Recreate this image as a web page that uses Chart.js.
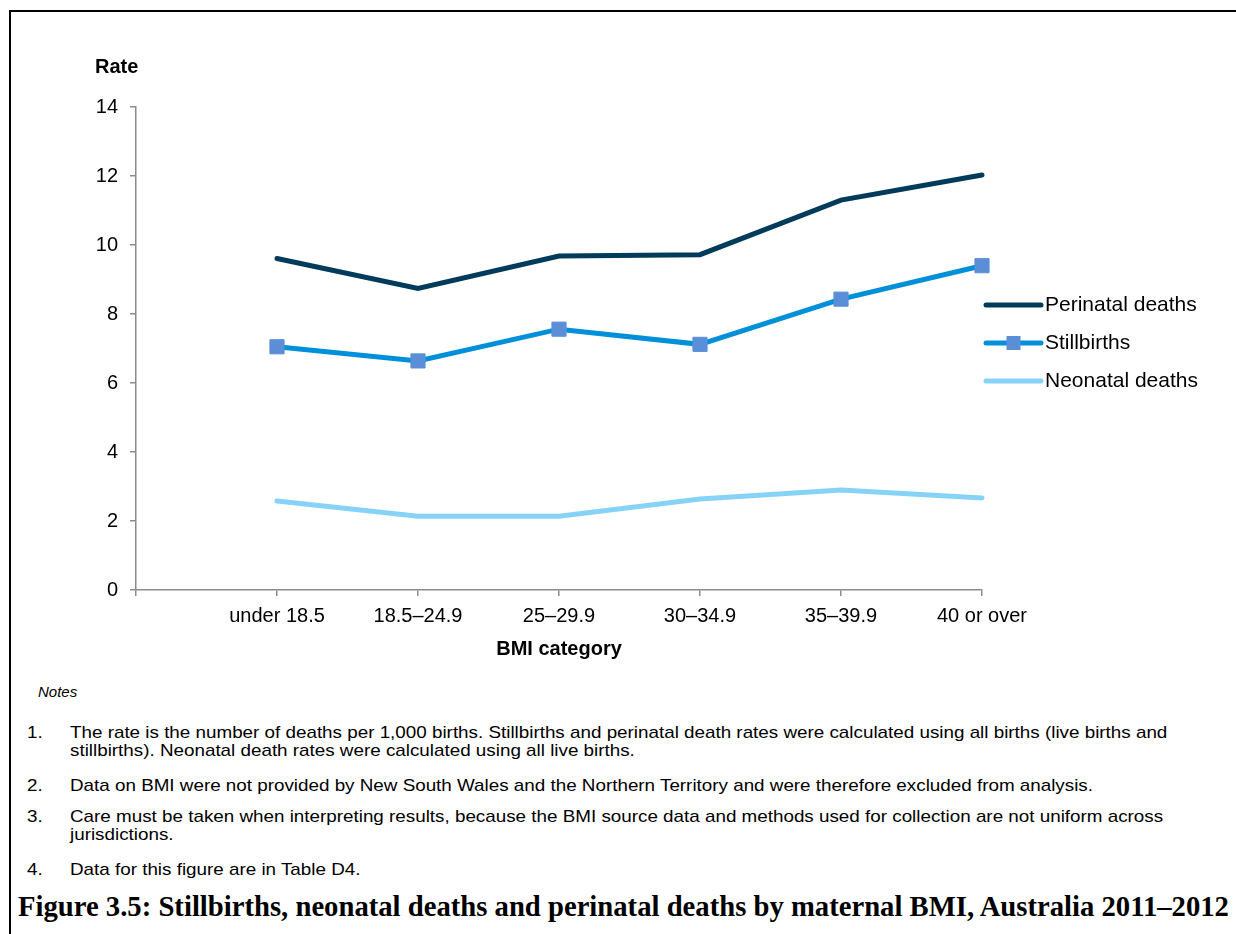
<!DOCTYPE html>
<html>
<head>
<meta charset="utf-8">
<script src="https://cdn.jsdelivr.net/npm/chart.js@4/dist/chart.umd.min.js"></script>
<style>
html, body { margin: 0; padding: 0; background: #fff; }
body { font-family: "Liberation Sans", Arial, sans-serif; color: #000; position: relative; width: 1236px; height: 934px; overflow: hidden; }
#frame { position: absolute; left: 9px; top: 10px; right: 0; bottom: 0; border-left: 2px solid #000; border-top: 2px solid #000; }
#myChart { position: absolute; left: 0; top: 0; }
.t { position: absolute; white-space: nowrap; font-size: 17px; line-height: 18px; transform: scaleX(1.107); transform-origin: 0 0; }
.num { left: 27px; }
.txt { left: 70px; }
#notes { left: 38px; top: 683px; font-style: italic; font-size: 15px; transform: none; }
#caption { position: absolute; left: 18px; top: 892px; white-space: nowrap; font-family: "Liberation Serif", "Times New Roman", serif; font-weight: bold; font-size: 24px; line-height: 28px; }
</style>
</head>
<body>
<div id="frame"></div>
<canvas id="myChart" width="1210" height="670"></canvas>

<div class="t" id="notes">Notes</div>
<div class="t num" style="top:724px">1.</div>
<div class="t txt" style="top:724px">The rate is the number of deaths per 1,000 births. Stillbirths and perinatal death rates were calculated using all births (live births and</div>
<div class="t txt" style="top:742px">stillbirths). Neonatal death rates were calculated using all live births.</div>
<div class="t num" style="top:777px">2.</div>
<div class="t txt" style="top:777px">Data on BMI were not provided by New South Wales and the Northern Territory and were therefore excluded from analysis.</div>
<div class="t num" style="top:808px">3.</div>
<div class="t txt" style="top:808px">Care must be taken when interpreting results, because the BMI source data and methods used for collection are not uniform across</div>
<div class="t txt" style="top:826px">jurisdictions.</div>
<div class="t num" style="top:861px">4.</div>
<div class="t txt" style="top:861px">Data for this figure are in Table D4.</div>
<div id="caption">Figure 3.5: Stillbirths, neonatal deaths and perinatal deaths by maternal BMI, Australia 2011–2012</div>

<script>
const categories = ['under 18.5', '18.5–24.9', '25–29.9', '30–34.9', '35–39.9', '40 or over']
const perinatal = [9.61, 8.74, 9.68, 9.72, 11.3, 12.03]
const stillbirths = [7.05, 6.64, 7.56, 7.12, 8.43, 9.4]
const neonatal = [2.58, 2.14, 2.14, 2.64, 2.9, 2.67]
const yTicks = [0, 2, 4, 6, 8, 10, 12, 14]

const FONT = '"Liberation Sans", Arial, sans-serif'
Chart.defaults.font.family = FONT
Chart.defaults.color = '#000'

// categories sit at 1..6, the axis starts one step earlier at 0
const toPoints = arr => arr.map((v, i) => ({ x: i + 1, y: v }))

// legend drawn to the right of the plot, line sample + marker like the original
const sideLegend = {
    id: 'sideLegend',
    afterDraw(chart) {
        const c = chart.ctx
        const x0 = 986
        const x1 = 1041
        c.save()
        chart.data.datasets.forEach((ds, i) => {
            const y = 305 + i * 38
            c.strokeStyle = ds.borderColor
            c.lineWidth = ds.borderWidth
            c.lineCap = 'round'
            c.beginPath()
            c.moveTo(x0, y)
            c.lineTo(x1, y)
            c.stroke()
            if (ds.pointRadius > 0) {
                c.fillStyle = ds.pointBackgroundColor
                c.fillRect((x0 + x1) / 2 - 7, y - 7, 14, 14)
            }
            c.fillStyle = '#000'
            c.font = '21px ' + FONT
            c.textBaseline = 'middle'
            c.textAlign = 'left'
            c.fillText(ds.label, x1 + 4, y)
        })
        // y axis title sits above the axis
        c.font = 'bold 20px ' + FONT
        c.fillText('Rate', 95, 67)
        c.restore()
    }
}

const ctx = document.getElementById('myChart')

const chart = new Chart(ctx, {
    type: 'line',
    data: {
        datasets: [
            {
                label: 'Perinatal deaths',
                data: toPoints(perinatal),
                borderColor: '#003B5C',
                borderWidth: 5,
                borderCapStyle: 'round',
                pointRadius: 0,
                clip: false
            },
            {
                label: 'Stillbirths',
                data: toPoints(stillbirths),
                borderColor: '#0090DA',
                borderWidth: 5,
                pointStyle: 'rect',
                pointRadius: 10,
                pointBackgroundColor: '#5A8FD8',
                pointBorderColor: '#5A8FD8',
                pointBorderWidth: 1,
                clip: false
            },
            {
                label: 'Neonatal deaths',
                data: toPoints(neonatal),
                borderColor: '#86D3F7',
                borderWidth: 5,
                borderCapStyle: 'round',
                pointRadius: 0,
                clip: false
            }
        ]
    },
    options: {
        responsive: false,
        animation: false,
        events: [],
        layout: {
            padding: { left: 0, right: 228, top: 107, bottom: 0 }
        },
        plugins: {
            legend: { display: false },
            tooltip: { enabled: false }
        },
        scales: {
            x: {
                type: 'linear',
                min: 0,
                max: categories.length,
                afterFit: s => { s.height = 80 },
                afterBuildTicks: s => {
                    s.ticks = [0].concat(categories.map((c, i) => i + 1)).map(v => ({ value: v }))
                },
                ticks: {
                    autoSkip: false,
                    maxRotation: 0,
                    padding: 8,
                    font: { size: 20 },
                    callback: v => categories[v - 1] || ''
                },
                grid: { drawOnChartArea: false, tickLength: 6, color: '#8c8c8c', lineWidth: 1.5 },
                border: { color: '#8c8c8c', width: 1.5 },
                title: {
                    display: true,
                    text: 'BMI category',
                    font: { size: 20, weight: 'bold' },
                    padding: { top: 0, bottom: 9 }
                }
            },
            y: {
                min: 0,
                max: 14,
                afterFit: s => { s.width = 136 },
                afterBuildTicks: s => {
                    s.ticks = yTicks.map(v => ({ value: v }))
                },
                ticks: {
                    padding: 12,
                    font: { size: 20 }
                },
                grid: { drawOnChartArea: false, tickLength: 6, color: '#8c8c8c', lineWidth: 1.5 },
                border: { color: '#8c8c8c', width: 1.5 }
            }
        }
    },
    plugins: [sideLegend]
})

// stretch the caption to the same width as in the original figure
const cap = document.getElementById('caption')
const m = document.createElement('canvas').getContext('2d')
m.font = 'bold 24px "Liberation Serif"'
const w = m.measureText(cap.textContent).width
cap.style.fontSize = (24 * 1213 / w).toFixed(2) + 'px'
</script>
</body>
</html>
